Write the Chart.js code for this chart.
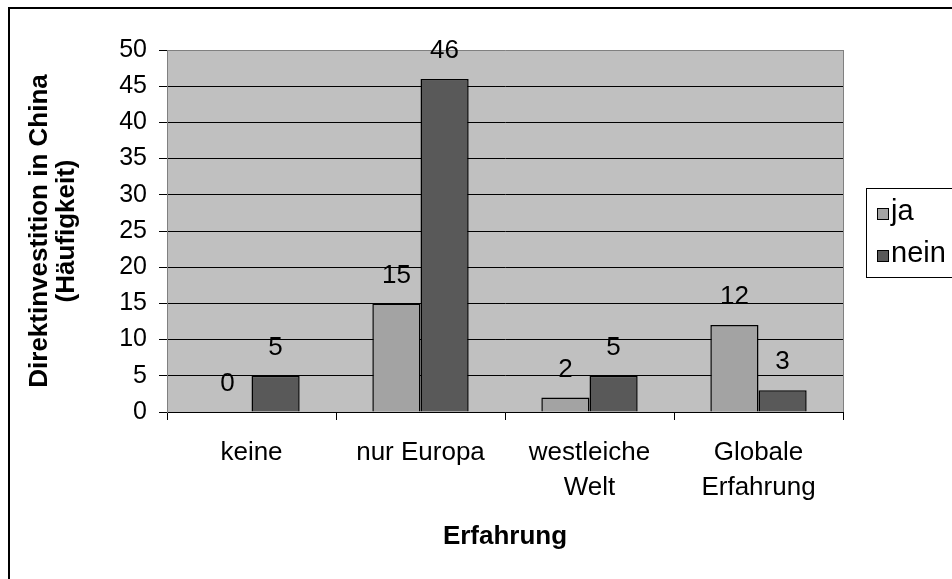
<!DOCTYPE html>
<html>
<head>
<meta charset="utf-8">
<script src="https://cdn.jsdelivr.net/npm/chart.js@4/dist/chart.umd.min.js"></script>
<style>
  html, body { margin: 0; padding: 0; background: #fff; }
  #wrap { width: 952px; height: 579px; }
</style>
</head>
<body>
<div id="wrap"><canvas id="chart"></canvas></div>
<script>
// Daten
const categories = ['keine', 'nur Europa', ['westleiche', 'Welt'], ['Globale', 'Erfahrung']];
const seriesNames = ['ja', 'nein'];
const jaValues = [0, 15, 2, 12];
const neinValues = [5, 46, 5, 3];
const yTickValues = [0, 5, 10, 15, 20, 25, 30, 35, 40, 45, 50];

const FONT = "'Liberation Sans', Arial, sans-serif";
const barColors = ['#A3A3A3', '#595959'];

// grauer Hintergrund der Zeichenfläche
const plotBackground = {
    id: 'plotBackground',
    beforeDraw(chart) {
        const { ctx, chartArea: a } = chart;
        ctx.save();
        ctx.fillStyle = '#C0C0C0';
        ctx.fillRect(a.left, a.top, a.right - a.left, a.bottom - a.top);
        ctx.restore();
    }
};

// Werte über den Säulen
const valueLabels = {
    id: 'valueLabels',
    afterDatasetsDraw(chart) {
        const ctx = chart.ctx;
        ctx.save();
        ctx.font = '26px ' + FONT;
        ctx.fillStyle = '#000';
        ctx.textAlign = 'center';
        ctx.textBaseline = 'middle';
        chart.data.datasets.forEach((ds, i) => {
            chart.getDatasetMeta(i).data.forEach((bar, j) => {
                ctx.fillText(String(ds.data[j]), bar.x, bar.y - 28);
            });
        });
        ctx.restore();
    }
};

// Rahmen, rechte Kante der Zeichenfläche und Legende
const frame = {
    id: 'frame',
    afterDraw(chart) {
        const { ctx, chartArea: a } = chart;
        ctx.save();
        ctx.strokeStyle = '#808080';
        ctx.lineWidth = 1;
        ctx.beginPath();
        ctx.moveTo(Math.round(a.right) + 0.5, a.top);
        ctx.lineTo(Math.round(a.right) + 0.5, a.bottom);
        ctx.stroke();

        ctx.strokeStyle = '#000';
        ctx.lineWidth = 2;
        ctx.strokeRect(9, 8, 2000, 2000);

        // Legende
        ctx.lineWidth = 1;
        ctx.strokeRect(866.5, 188.5, 200, 89);
        ctx.font = '29px ' + FONT;
        ctx.textAlign = 'left';
        ctx.textBaseline = 'alphabetic';
        chart.data.datasets.forEach((ds, i) => {
            const y = 208 + i * 42;
            ctx.fillStyle = ds.backgroundColor;
            ctx.fillRect(877, y, 12, 12);
            ctx.strokeStyle = '#000';
            ctx.strokeRect(877.5, y + 0.5, 11, 11);
            ctx.fillStyle = '#000';
            ctx.fillText(ds.label, 891, y + 12);
        });
        ctx.restore();
    }
};

new Chart(document.getElementById('chart'), {
    type: 'bar',
    data: {
        labels: categories,
        datasets: [
            {
                label: seriesNames[0],
                data: jaValues,
                backgroundColor: barColors[0],
                borderColor: '#000',
                borderWidth: 1.5,
                categoryPercentage: 0.57,
                barPercentage: 1
            },
            {
                label: seriesNames[1],
                data: neinValues,
                backgroundColor: barColors[1],
                borderColor: '#000',
                borderWidth: 1.5,
                categoryPercentage: 0.57,
                barPercentage: 1
            }
        ]
    },
    options: {
        responsive: true,
        maintainAspectRatio: false,
        animation: false,
        layout: { padding: { left: 0, top: 50, right: 109, bottom: 0 } },
        plugins: {
            legend: { display: false },
            tooltip: { enabled: false }
        },
        scales: {
            x: {
                grid: {
                    offset: true,
                    drawOnChartArea: false,
                    drawTicks: true,
                    tickLength: 8,
                    tickColor: '#000'
                },
                border: { display: true, color: '#000', width: 1 },
                ticks: {
                    color: '#000',
                    padding: 16,
                    maxRotation: 0,
                    font: { family: FONT, size: 26, lineHeight: 1.32 }
                },
                title: {
                    display: true,
                    text: 'Erfahrung',
                    color: '#000',
                    padding: { top: 0, bottom: 27 },
                    font: { family: FONT, size: 26, weight: 'bold', lineHeight: 1.2 }
                },
                afterFit(scale) { scale.height = 167; }
            },
            y: {
                min: 0,
                max: 50,
                afterBuildTicks(scale) {
                    scale.ticks = yTickValues.map(v => ({ value: v }));
                },
                grid: {
                    color: ctx => ctx.tick && ctx.tick.value === 50 ? '#808080' : '#000',
                    tickColor: '#000',
                    tickLength: 8,
                    lineWidth: 1
                },
                border: { display: true, color: '#808080', width: 1 },
                ticks: {
                    color: '#000',
                    padding: 12,
                    font: { family: FONT, size: 25 }
                },
                title: {
                    display: true,
                    text: ['Direktinvestition in China', '(Häufigkeit)'],
                    color: '#000',
                    padding: { top: 26, bottom: 0 },
                    font: { family: FONT, size: 26, weight: 'bold', lineHeight: 1.05 }
                },
                afterFit(scale) { scale.width = 167; }
            }
        }
    },
    plugins: [plotBackground, valueLabels, frame]
});
</script>
</body>
</html>
